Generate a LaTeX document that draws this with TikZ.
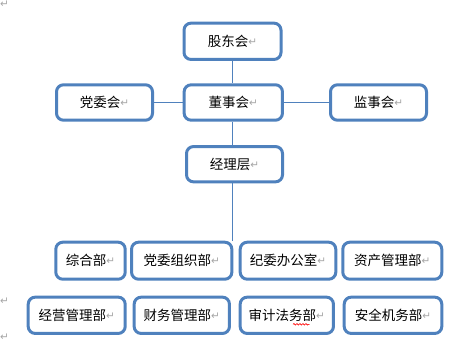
\documentclass[tikz,border=0pt]{standalone}
\usepackage{fontspec}
\setmainfont{Noto Sans CJK SC}
\newfontfamily\dvfont{DejaVu Sans}
\usetikzlibrary{decorations.pathmorphing}
\definecolor{boxblue}{HTML}{4F81BD}
\definecolor{markgray}{HTML}{A6A6A6}
\newcommand{\parmk}{\raisebox{1.2pt}{\dvfont\fontsize{10.5}{10.5}\selectfont\textcolor{markgray}{↵}}}
\tikzset{
  orgbox/.style={draw=boxblue, line width=3pt, rounded corners=7pt, inner sep=0pt,
    fill=white, font=\fontsize{13.5}{14}\selectfont, text=black},
  link/.style={draw=boxblue, line width=1pt},
  parmark/.style={inner sep=0pt, anchor=west}
}
\begin{document}
\begin{tikzpicture}[x=1pt,y=-1pt]
\useasboundingbox (0,0) rectangle (466,348);
% top level
\node[orgbox, minimum width=97pt, minimum height=36.3pt] (gdh) at (232.5,41.3) {股东会\parmk};
\node[orgbox, minimum width=98.3pt, minimum height=35.4pt] (dsh) at (233.3,102.5) {董事会\parmk};
\node[orgbox, minimum width=96pt, minimum height=35.4pt] (dwh) at (104.5,102.5) {党委会\parmk};
\node[orgbox, minimum width=96pt, minimum height=35.4pt] (jsh) at (378.5,102.5) {监事会\parmk};
\node[orgbox, minimum width=96pt, minimum height=35.3pt] (jlc) at (234.5,164.2) {经理层\parmk};
% row 1
\node[orgbox, minimum width=69.4pt, minimum height=37pt] (zhb) at (90.5,260.7) {综合部\parmk};
\node[orgbox, minimum width=100.3pt, minimum height=37pt] (dwzz) at (181.7,260.7) {党委组织部\parmk};
\node[orgbox, minimum width=95.6pt, minimum height=37pt] (jwbgs) at (288,260.7) {纪委办公室\parmk};
\node[orgbox, minimum width=99pt, minimum height=37pt] (zcgl) at (392.3,260.7) {资产管理部\parmk};
% row 2
\node[orgbox, minimum width=97pt, minimum height=36.3pt] (jygl) at (76.7,315.3) {经营管理部\parmk};
\node[orgbox, minimum width=95.3pt, minimum height=36.3pt] (cwgl) at (181.8,315.3) {财务管理部\parmk};
\node[orgbox, minimum width=93.3pt, minimum height=36.3pt] (sjfw) at (286.8,315.3) {审计法务部\parmk};
\node[orgbox, minimum width=97.6pt, minimum height=36.3pt] (aqjw) at (393,315.3) {安全机务部\parmk};
% connectors
\coordinate (vx) at (232.3,0);
\coordinate (vend) at (232.3,241);
\draw[link] (gdh.south -| vx) -- (dsh.north -| vx);
\draw[link] (dsh.south -| vx) -- (jlc.north -| vx);
\draw[link] (jlc.south -| vx) -- (vend);
\draw[link] (dwh.east) -- (dsh.west);
\draw[link] (dsh.east) -- (jsh.west);
% spell-check underline
\coordinate (wv1) at (293,324.3);
\coordinate (wv2) at (309.5,324.3);
\draw[red, line width=0.6pt, decorate, decoration={snake, amplitude=0.8pt, segment length=3pt}] (wv1) -- (wv2);
% stray paragraph marks
\node[parmark] (pm1) at (0,5) {\parmk};
\node[parmark] (pm2) at (0,301.5) {\parmk};
\node[parmark] (pm3) at (0,338) {\parmk};
\end{tikzpicture}
\end{document}
